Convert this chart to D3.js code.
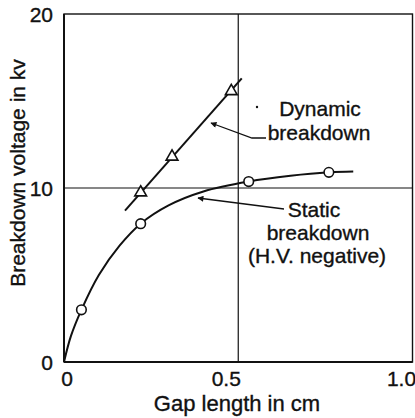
<!DOCTYPE html>
<html><head><meta charset="utf-8">
<script src="https://cdn.jsdelivr.net/npm/d3@7"></script>
<style>body{margin:0;background:#fff}svg{display:block}text{font-family:"Liberation Sans",Arial,sans-serif;fill:#111;stroke:#111;stroke-width:0.35px}</style>
</head><body>
<script>
const xTicks = [0, 0.5, 1.0];
const xTickLabels = ["0", "0.5", "1.0"];
const yTicks = [0, 10, 20];
const yTickLabels = ["0", "10", "20"];
const staticPointsX = [0.05, 0.22, 0.53, 0.76];
const staticPointsY = [3.0, 7.95, 10.37, 10.9];
const staticCurveX = [0, 0.02, 0.05, 0.1, 0.16, 0.22, 0.3, 0.4, 0.53, 0.65, 0.76, 0.83];
const staticCurveY = [0, 1.5, 3.0, 5.0, 6.7, 7.95, 9.0, 9.8, 10.37, 10.7, 10.9, 10.95];
const dynPointsX = [0.22, 0.31, 0.48];
const dynPointsY = [9.74, 11.8, 15.56];
const dynLineX = [0.175, 0.51];
const dynLineY = [8.7, 16.3];

const W = 415, H = 418;
const svg = d3.select("body").append("svg").attr("width", W).attr("height", H);
const x = d3.scaleLinear().domain([0, 1]).range([64, 412.5]);
const y = d3.scaleLinear().domain([0, 20]).range([362, 14]);

// frame
svg.append("rect").attr("x", x(0)).attr("y", y(20)).attr("width", x(1) - x(0)).attr("height", y(0) - y(20))
  .attr("fill", "none").attr("stroke", "#111").attr("stroke-width", 1.4);
// grid
svg.append("line").attr("x1", x(0.5)).attr("x2", x(0.5)).attr("y1", y(0)).attr("y2", y(20)).attr("stroke", "#111").attr("stroke-width", 1.2);
svg.append("line").attr("x1", x(0)).attr("x2", x(1)).attr("y1", y(10)).attr("y2", y(10)).attr("stroke", "#111").attr("stroke-width", 1.2);
svg.append("line").attr("x1", x(0)).attr("x2", x(0)).attr("y1", y(0)).attr("y2", y(20)).attr("stroke", "#111").attr("stroke-width", 2);
svg.append("line").attr("x1", x(0)).attr("x2", x(1)).attr("y1", y(0)).attr("y2", y(0)).attr("stroke", "#111").attr("stroke-width", 2);

// tick labels
const xOff = [3, -12, -11];
xTicks.forEach((t, i) => {
  svg.append("text").attr("x", x(t) + xOff[i]).attr("y", 386)
    .attr("text-anchor", "middle").attr("font-size", 21).text(xTickLabels[i]);
});
yTicks.forEach((t, i) => {
  svg.append("text").attr("x", 53).attr("y", y(t) + 8).attr("text-anchor", "end")
    .attr("font-size", 21).text(yTickLabels[i]);
});
svg.append("text").attr("x", 237).attr("y", 411).attr("text-anchor", "middle").attr("font-size", 22).text("Gap length in cm");
svg.append("text").attr("transform", "translate(25,173) rotate(-90)").attr("text-anchor", "middle").attr("font-size", 21).text("Breakdown voltage in kv");

// static curve
const line = d3.line().x(d => x(d[0])).y(d => y(d[1])).curve(d3.curveCatmullRom);
svg.append("path").datum(staticCurveX.map((v, i) => [v, staticCurveY[i]])).attr("d", line)
  .attr("fill", "none").attr("stroke", "#111").attr("stroke-width", 2);
svg.selectAll(".sp").data(staticPointsX.map((v, i) => [v, staticPointsY[i]])).enter().append("circle")
  .attr("cx", d => x(d[0])).attr("cy", d => y(d[1])).attr("r", 4.8)
  .attr("fill", "#fff").attr("stroke", "#111").attr("stroke-width", 1.6);

// dynamic line
svg.append("path").datum(dynLineX.map((v, i) => [v, dynLineY[i]])).attr("d", d3.line().x(d => x(d[0])).y(d => y(d[1])))
  .attr("fill", "none").attr("stroke", "#111").attr("stroke-width", 2);
const tri = d3.symbol().type(d3.symbolTriangle).size(60);
svg.selectAll(".dp").data(dynPointsX.map((v, i) => [v, dynPointsY[i]])).enter().append("path")
  .attr("d", tri).attr("transform", d => `translate(${x(d[0])},${y(d[1])})`)
  .attr("fill", "#fff").attr("stroke", "#111").attr("stroke-width", 1.6);

// annotations
svg.append("defs").append("marker").attr("id", "ah").attr("viewBox", "0 0 10 10").attr("refX", 9).attr("refY", 5)
  .attr("markerWidth", 12).attr("markerHeight", 6).attr("markerUnits", "userSpaceOnUse").attr("orient", "auto")
  .append("path").attr("d", "M0,0 L10,5 L0,10 z").attr("fill", "#111");
svg.append("path").attr("d", "M266,138 L252,138 L211,123").attr("fill", "none").attr("stroke", "#111")
  .attr("stroke-width", 1.3).attr("marker-end", "url(#ah)");
svg.append("path").attr("d", "M284,209 L198,198").attr("fill", "none").attr("stroke", "#111")
  .attr("stroke-width", 1.3).attr("marker-end", "url(#ah)");
svg.append("circle").attr("cx", 257).attr("cy", 107).attr("r", 1.2).attr("fill", "#111");
const ann = [["Dynamic", 320, 116], ["breakdown", 319, 140], ["Static", 314, 217], ["breakdown", 318, 240], ["(H.V. negative)", 317, 263]];
ann.forEach(a => svg.append("text").attr("x", a[1]).attr("y", a[2]).attr("text-anchor", "middle").attr("font-size", 21).text(a[0]));
</script>
</body></html>
